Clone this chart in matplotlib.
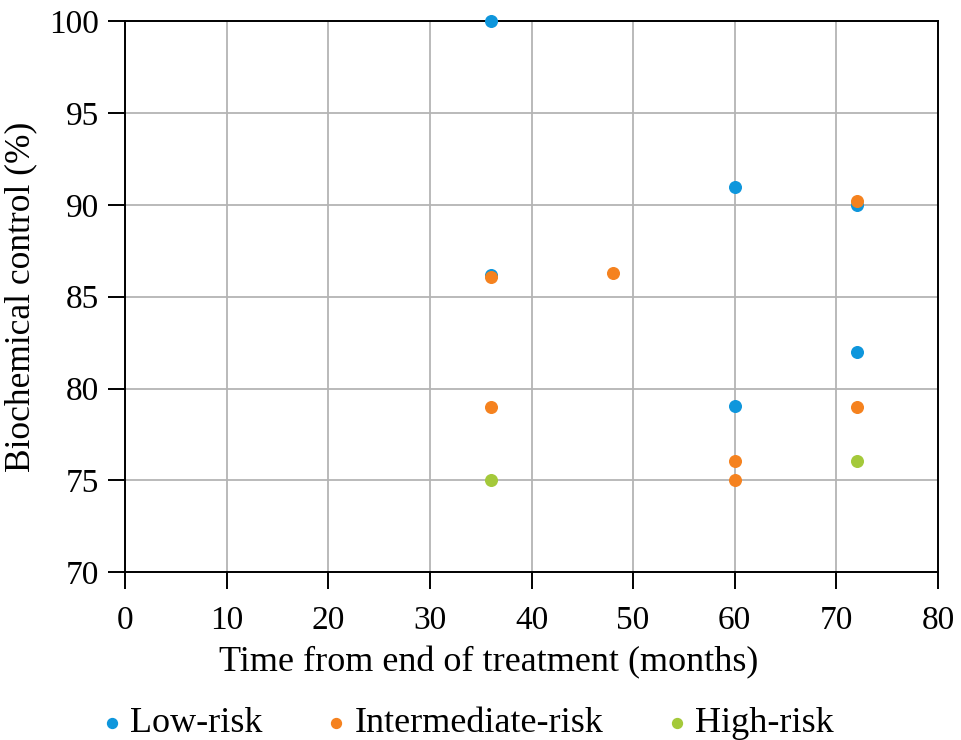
import matplotlib
matplotlib.use("Agg")
import matplotlib.pyplot as plt

plt.rcParams['font.family'] = ['Liberation Serif', 'DejaVu Serif']

# data (months, % biochemical control)
low_x = [36, 36, 60, 60, 72, 72]
low_y = [100, 86.2, 91.0, 79.05, 90.0, 82.0]
inter_x = [36, 36, 48, 60, 60, 72, 72]
inter_y = [86.05, 79.0, 86.3, 76.05, 75.0, 90.2, 79.0]
high_x = [36, 72]
high_y = [75.0, 76.05]

x_ticks = [0, 10, 20, 30, 40, 50, 60, 70, 80]
y_ticks = [70, 75, 80, 85, 90, 95, 100]

fig = plt.figure(figsize=(9.62, 7.4), dpi=100)
ax = fig.add_axes([0.130, 0.227, 0.845, 0.744])

ax.scatter(low_x, low_y, s=70, color='#0e96dc', label='Low-risk', zorder=3, clip_on=False)
ax.scatter(inter_x, inter_y, s=70, color='#f5821f', label='Intermediate-risk', zorder=3, clip_on=False)
ax.scatter(high_x, high_y, s=70, color='#a4c93a', label='High-risk', zorder=3, clip_on=False)

ax.set_xlim(0, 80)
ax.set_ylim(70, 100)
ax.set_xticks(x_ticks)
ax.set_yticks(y_ticks)
ax.grid(True, color='#b4b4b4', linewidth=1.3)
ax.set_axisbelow(True)
for s in ax.spines.values():
    s.set_color('black')
    s.set_linewidth(1.4)
ax.tick_params(direction='out', length=12, width=1.4, labelsize=24)
ax.tick_params(axis='x', pad=12)
ax.tick_params(axis='y', pad=7)

ax.set_xlabel('Time from end of treatment (months)', fontsize=26, labelpad=4)
ax.xaxis.set_label_coords(0.447, -0.134)
ax.set_ylabel('Biochemical control (%)', fontsize=25.5, labelpad=8)

fig.legend(loc='lower left', bbox_to_anchor=(0.105, 0.0), ncol=3, frameon=False,
           fontsize=26, markerscale=0.85, handletextpad=0.2, columnspacing=1.75,
           handlelength=0.6, borderpad=0, borderaxespad=0)

plt.savefig('out.png', dpi=100)
